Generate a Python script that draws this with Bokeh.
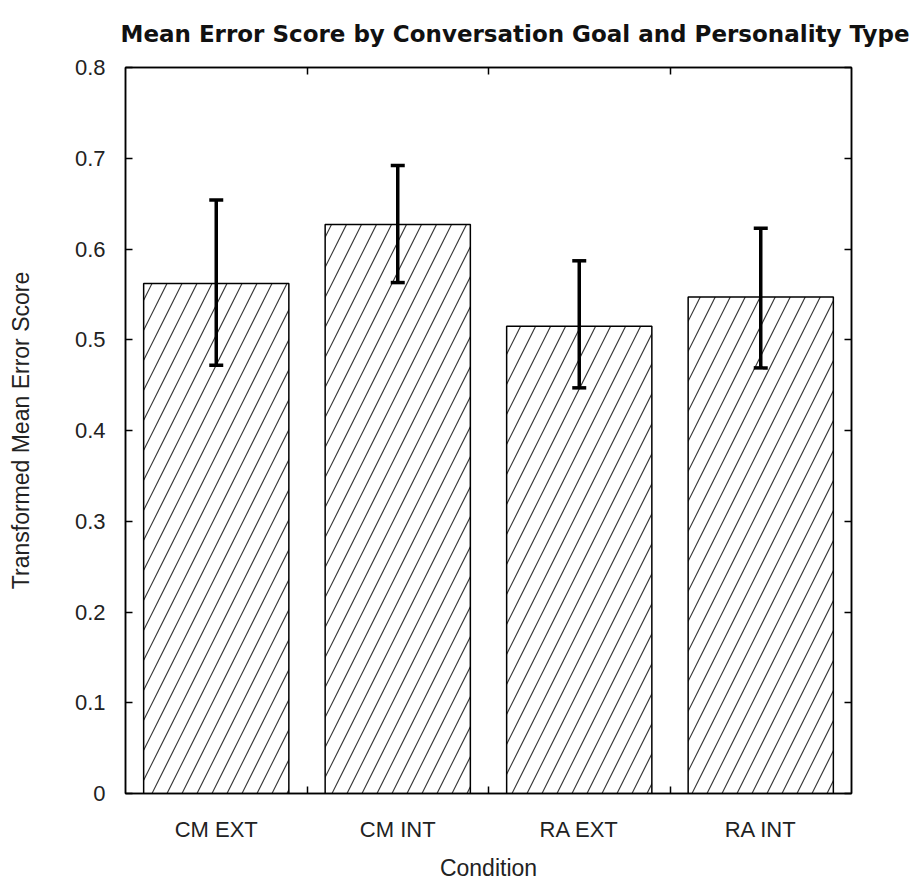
import numpy as np
from bokeh.plotting import figure
from bokeh.models import (Range1d, LinearAxis, FixedTicker, Whisker, TeeHead,
                          ColumnDataSource, Title)
from bokeh.embed import file_html
from bokeh.resources import INLINE

conditions = ["CM EXT", "CM INT", "RA EXT", "RA INT"]
means = [0.562, 0.627, 0.515, 0.547]
upper = [0.654, 0.692, 0.587, 0.623]
lower = [0.472, 0.563, 0.447, 0.469]
y_ticks = [0, 0.1, 0.2, 0.3, 0.4, 0.5, 0.6, 0.7, 0.8]

FONT = "Liberation Sans"

n = len(conditions)
centers = list(np.arange(n) + 0.5)
bounds = list(np.arange(1, n))

src = ColumnDataSource(dict(x=centers, top=means, upper=upper, lower=lower))

p = figure(width=912, height=883, output_backend="svg", toolbar_location=None,
           x_range=Range1d(0, n), y_range=Range1d(0, 0.8),
           min_border_left=125, min_border_right=61, min_border_top=67,
           min_border_bottom=90, x_axis_location=None, y_axis_location=None)

p.title = Title(text="Mean Error Score by Conversation Goal and Personality Type",
                text_font="DejaVu Sans", text_font_size="23px", text_font_style="bold",
                align="left", vertical_align="top", offset=-5, standoff=38,
                text_color="#111111")

p.xgrid.visible = False
p.ygrid.visible = False
p.outline_line_color = "black"
p.outline_line_width = 1.5
p.background_fill_color = "white"
p.border_fill_color = "white"

p.vbar(x="x", top="top", width=0.8, source=src, fill_color="white",
       line_color="black", line_width=1.5,
       hatch_pattern="/", hatch_color="#3a3a3a", hatch_scale=30, hatch_weight=1.2)

w = Whisker(base="x", upper="upper", lower="lower", source=src,
            line_color="black", line_width=3.5, level="overlay",
            upper_head=TeeHead(size=14, line_width=3.5, line_color="black"),
            lower_head=TeeHead(size=14, line_width=3.5, line_color="black"))
p.add_layout(w)

def style_axis(ax):
    ax.axis_line_color = "black"
    ax.axis_line_width = 1.5
    ax.major_tick_in = 7
    ax.major_tick_out = 0
    ax.minor_tick_in = 7
    ax.minor_tick_out = 0
    ax.major_tick_line_color = "black"
    ax.major_tick_line_width = 1.5
    ax.minor_tick_line_width = 1.5
    ax.major_label_text_font = FONT
    ax.major_label_text_font_size = "22px"
    ax.major_label_text_color = "#222222"
    ax.axis_label_text_font = FONT
    ax.axis_label_text_font_size = "23px"
    ax.axis_label_text_font_style = "normal"
    ax.axis_label_text_color = "#222222"

# bottom axis: labels at centers, ticks at boundaries
xb = LinearAxis(ticker=FixedTicker(ticks=centers, minor_ticks=bounds),
                axis_label="Condition")
style_axis(xb)
xb.major_tick_line_color = None
xb.minor_tick_line_color = "black"
xb.major_label_overrides = {c: lab for c, lab in zip(centers, conditions)}
xb.major_label_standoff = 23
xb.axis_label_standoff = 10
p.add_layout(xb, "below")

# top axis
xt = LinearAxis(ticker=FixedTicker(ticks=centers, minor_ticks=bounds))
style_axis(xt)
xt.major_tick_line_color = None
xt.minor_tick_line_color = "black"
xt.major_label_text_color = None
xt.major_label_text_font_size = "0px"
p.add_layout(xt, "above")

# left axis
yl = LinearAxis(ticker=FixedTicker(ticks=y_ticks, minor_ticks=[]),
                axis_label="Transformed Mean Error Score")
style_axis(yl)
yl.major_label_overrides = {0: "0"}
yl.major_label_standoff = 20
yl.axis_label_standoff = 38
p.add_layout(yl, "left")

# right axis
yr = LinearAxis(ticker=FixedTicker(ticks=y_ticks, minor_ticks=[]))
style_axis(yr)
yr.major_label_text_color = None
yr.major_label_text_font_size = "0px"
p.add_layout(yr, "right")

open("out.html", "w").write(file_html(p, INLINE))
